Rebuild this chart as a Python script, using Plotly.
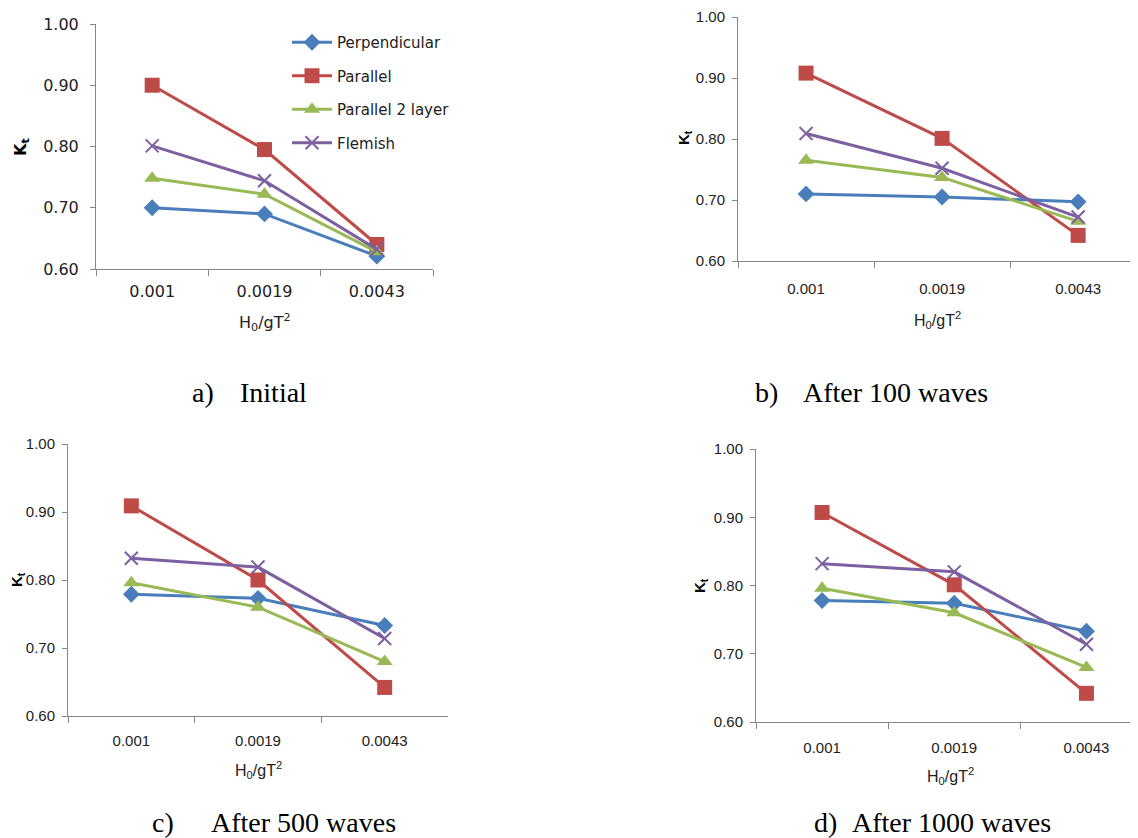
import plotly.graph_objects as go

# page is rendered with an 8px body margin; figure sized to fit the window
W, H = 1130, 830
OFF = 8

categories = ["0.001", "0.0019", "0.0043"]
series_names = ["Perpendicular", "Parallel", "Parallel 2 layer", "Flemish"]

# panel a) Initial
a_perp = [0.700, 0.690, 0.621]
a_par = [0.900, 0.795, 0.640]
a_par2 = [0.748, 0.722, 0.628]
a_flem = [0.801, 0.744, 0.632]

# panel b) After 100 waves
b_perp = [0.710, 0.705, 0.697]
b_par = [0.908, 0.801, 0.642]
b_par2 = [0.765, 0.737, 0.665]
b_flem = [0.809, 0.752, 0.672]

# panel c) After 500 waves
c_perp = [0.779, 0.773, 0.733]
c_par = [0.909, 0.800, 0.642]
c_par2 = [0.796, 0.760, 0.680]
c_flem = [0.832, 0.819, 0.714]

# panel d) After 1000 waves
d_perp = [0.778, 0.774, 0.733]
d_par = [0.907, 0.801, 0.642]
d_par2 = [0.796, 0.760, 0.680]
d_flem = [0.832, 0.820, 0.714]

y_ticks = [0.6, 0.7, 0.8, 0.9, 1.0]
y_ticklabels = ["0.60", "0.70", "0.80", "0.90", "1.00"]

captions = [("a)", "Initial"), ("b)", "After 100 waves"),
            ("c)", "After 500 waves"), ("d)", "After 1000 waves")]

colors = ["#4A7EBB", "#BE4B48", "#98B954", "#7D60A0"]
symbols = ["diamond", "square", "triangle-up", "x-thin-open"]
msizes = [13, 15, 14, 13]


def px(x):
    return min(max((x - OFF) / W, 0), 1)


def py(y):
    return min(max(1 - (y - OFF) / H, 0), 1)


# panel geometry in target window pixels
panels = [
    dict(l=96, r=433, t=24, b=269, xmax=2.5, font="DejaVu Sans", fs=16, xfs=16, so=8,
         xl=(265, 322), yl=(22, 147), cap=(190, 238, 392)),
    dict(l=738, r=1138, t=17, b=261, xmax=2.44, font="Liberation Sans", fs=15, xfs=16, so=14,
         xl=(938, 320), yl=(685, 138), cap=(753, 801, 392)),
    dict(l=68, r=448, t=444, b=716, xmax=2.5, font="Liberation Sans", fs=15, xfs=16, so=11,
         xl=(258, 770), yl=(17, 580), cap=(150, 209, 822)),
    dict(l=756, r=1138, t=449, b=722, xmax=2.39, font="Liberation Sans", fs=15, xfs=16, so=12,
         xl=(950, 776), yl=(700, 586), cap=(812, 850, 822)),
]

data = [
    [a_perp, a_par, a_par2, a_flem],
    [b_perp, b_par, b_par2, b_flem],
    [c_perp, c_par, c_par2, c_flem],
    [d_perp, d_par, d_par2, d_flem],
]

fig = go.Figure()
annotations = []
layout = {}

for i, (p, sets) in enumerate(zip(panels, data)):
    n = "" if i == 0 else str(i + 1)
    xa, ya = "x" + n, "y" + n
    for j, vals in enumerate(sets):
        fig.add_trace(go.Scatter(
            x=categories, y=vals, xaxis=xa, yaxis=ya,
            name=series_names[j], legendgroup=series_names[j],
            showlegend=(i == 0), mode="lines+markers",
            line=dict(color=colors[j], width=3),
            marker=dict(symbol=symbols[j], size=msizes[j], color=colors[j],
                        line=dict(color=colors[j], width=2 if j == 3 else 0)),
        ))
    layout["xaxis" + n] = dict(
        domain=[px(p["l"]), px(p["r"])], anchor=ya, type="category",
        range=[-0.5, p["xmax"]], tickson="boundaries", ticks="outside",
        ticklen=6, tickcolor="#868686", showline=True, linecolor="#868686",
        linewidth=1, showgrid=False, zeroline=False,
        tickfont=dict(family=p["font"], size=p["fs"], color="#222222"),
        ticklabelstandoff=p["so"], ticklabeloverflow="allow",
    )
    layout["yaxis" + n] = dict(
        domain=[py(p["b"]), py(p["t"])], anchor=xa, range=[0.6, 1.0],
        tickvals=y_ticks, ticktext=y_ticklabels, ticks="outside", ticklen=5,
        tickcolor="#868686", showline=True, linecolor="#868686", linewidth=1,
        showgrid=False, zeroline=False,
        tickfont=dict(family=p["font"], size=p["fs"], color="#222222"),
        ticklabelstandoff=8 if i == 0 else 4, ticklabeloverflow="allow",
    )
    annotations.append(dict(
        x=px(p["xl"][0]), y=py(p["xl"][1]), xref="paper", yref="paper",
        text="H<sub>0</sub>/gT<sup>2</sup>", showarrow=False,
        font=dict(family=p["font"], size=p["xfs"], color="#222222"),
        xanchor="center", yanchor="middle",
    ))
    annotations.append(dict(
        x=px(p["yl"][0]), y=py(p["yl"][1]), xref="paper", yref="paper",
        text="<b>K<sub>t</sub></b>", showarrow=False, textangle=-90,
        font=dict(family=p["font"], size=p["fs"], color="#000000"),
        xanchor="center", yanchor="middle",
    ))
    lab, txt = captions[i]
    annotations.append(dict(
        x=px(p["cap"][0]), y=py(p["cap"][2]), xref="paper", yref="paper",
        text=lab, showarrow=False, xanchor="left", yanchor="middle",
        font=dict(family="Liberation Serif", size=28, color="#000000"),
    ))
    annotations.append(dict(
        x=px(p["cap"][1]), y=py(p["cap"][2]), xref="paper", yref="paper",
        text=txt, showarrow=False, xanchor="left", yanchor="middle",
        font=dict(family="Liberation Serif", size=28, color="#000000"),
    ))

fig.update_layout(
    width=W, height=H,
    margin=dict(l=0, r=0, t=0, b=0, pad=0, autoexpand=False),
    paper_bgcolor="white", plot_bgcolor="white",
    annotations=annotations,
    legend=dict(x=px(287), y=py(26), xanchor="left", yanchor="top",
                itemwidth=40,
                font=dict(family="DejaVu Sans", size=15, color="#222222"),
                tracegroupgap=11, bgcolor="rgba(0,0,0,0)"),
    **layout,
)

fig.write_html("out.html")
